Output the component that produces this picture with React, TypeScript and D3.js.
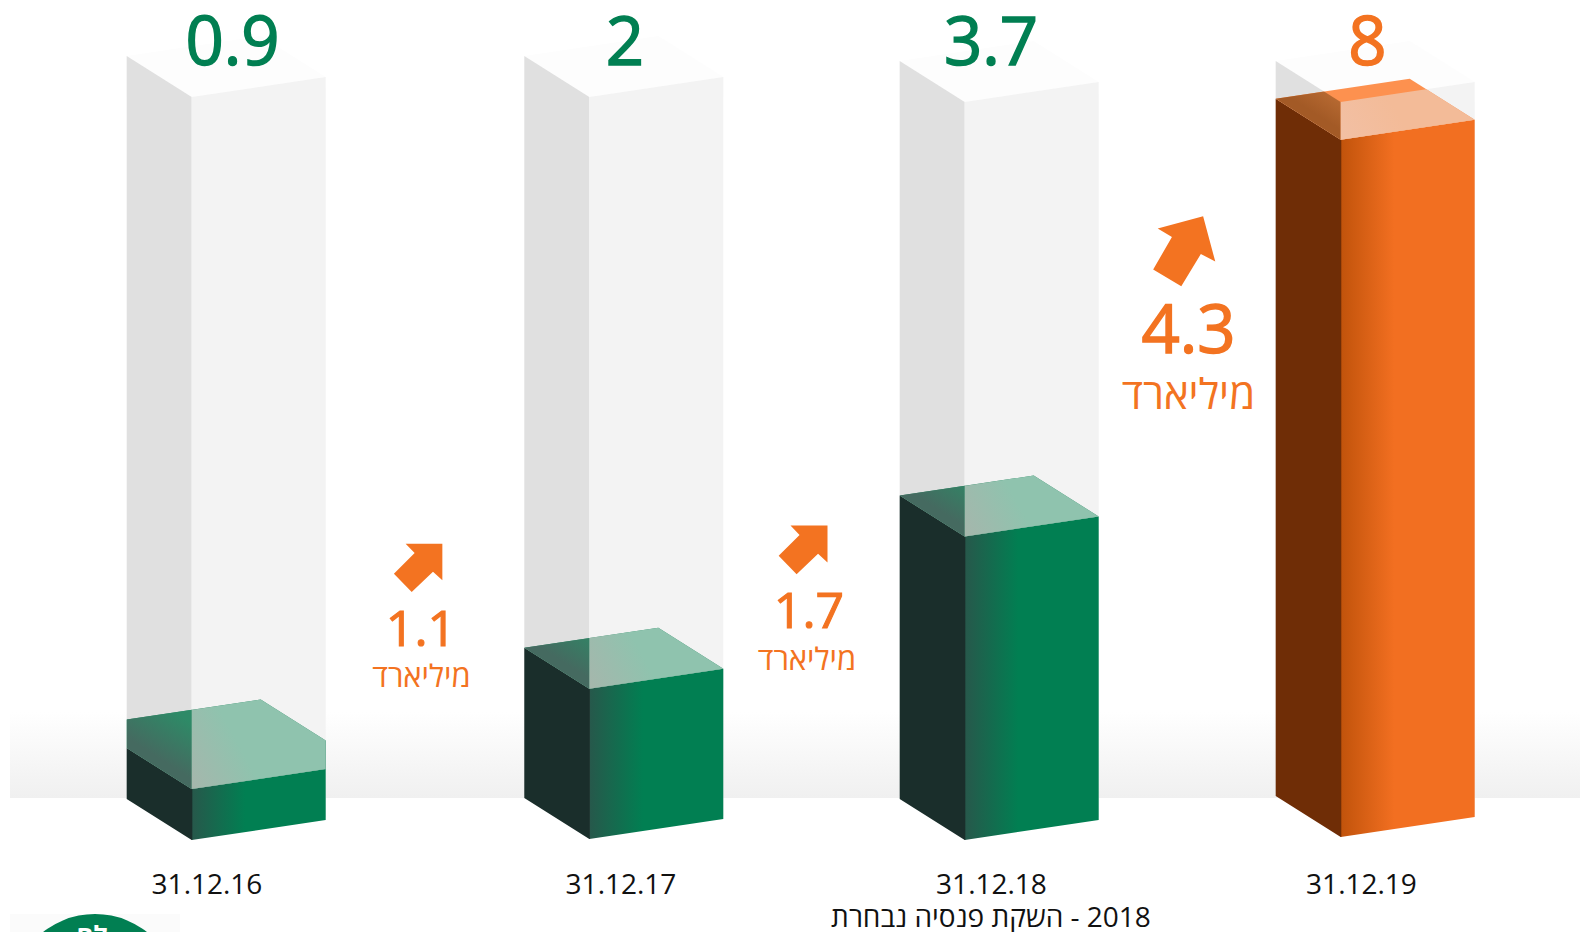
import React from "react";
import * as d3 from "d3";

const categories = ["31.12.16", "31.12.17", "31.12.18", "31.12.19"];
const values = [0.9, 2, 3.7, 8];
const valueLabels = ["0.9", "2", "3.7", "8"];
const deltas = ["1.1", "1.7", "4.3"];
const unitWord = "מיליארד";
const footnote = "2018 - השקת פנסיה נבחרת";
const logoText = "לח";

const W = 1580, H = 932;
const DX_L = 65, DY_L = 41, DX_R = 134, DY_R = 20;

const xLeft = d3.scaleOrdinal<string, number>().domain(categories).range([126.7, 524.3, 899.7, 1275.7]);
const frontBase = d3.scaleOrdinal<string, number>().domain(categories).range([840, 839, 840, 837]);
const ghostFrontTop = d3.scaleOrdinal<string, number>().domain(categories).range([97, 97, 102, 102]);
const lift = d3.scaleOrdinal<string, number>().domain(categories).range([28.5, 0, 0, 0]);
const heightScale = d3.scaleLinear().domain(values).range([51, 150.3, 303.5, 697.3]);
const valueX = d3.scaleOrdinal<string, number>().domain(valueLabels).range([232.5, 625, 991, 1367.5]);
const dateX = d3.scaleOrdinal<string, number>().domain(categories).range([207, 621, 991.5, 1361.5]);

const poly = (pts: number[][]) => (d3.line()(pts as [number, number][]) || "") + "Z";

const palette = {
  green: { left: "#1a2e2b", f0: "#27584b", f1: "#017f52", base: "#2f8a67", l0: "#456a60", l1: "#2e8a67", r0: "#a6b6ac", r1: "#8fc3ae" },
  orange: { left: "#6f2d06", f0: "#c1530b", f1: "#f26f21", base: "#fd914f", l0: "#a35a26", l1: "#c8773c", r0: "#f2c0a4", r1: "#f3bb98" },
};

const FONT = "'Open Sans','Noto Sans',sans-serif";
const ORANGE = "#f37321";
const GREEN = "#017f52";

function Bar({ cat, i }: { cat: string; i: number }) {
  const x0 = xLeft(cat), xm = x0 + DX_L, x1 = xm + DX_R;
  const base = frontBase(cat);
  const gy = ghostFrontTop(cat);
  const top = base - heightScale(values[i]);
  const c = i === 3 ? palette.orange : palette.green;
  const lf = lift(cat);
  const inner = 3;
  const ghostL = poly([[x0, gy - DY_L], [xm, gy], [xm, base - inner], [x0, base - DY_L - inner]]);
  const ghostR = poly([[xm, gy], [x1, gy - DY_R], [x1, base - DY_R - inner], [xm, base - inner]]);
  const ghostT = poly([[x0, gy - DY_L], [x0 + DX_R, gy - DY_L - DY_R], [x1, gy - DY_R], [xm, gy]]);
  const lid = poly([
    [x0, top - DY_L - lf],
    [x0 + DX_R, top - DY_L - DY_R - lf],
    [x1, top - DY_R - lf],
    [x1, top - DY_R],
    [xm, top],
    [x0, top - DY_L],
  ]);
  const mx = (x0 + xm) / 2, my = top - DY_L / 2;
  return (
    <g>
      <defs>
        <linearGradient id={`front${i}`} gradientUnits="userSpaceOnUse" x1={xm} x2={x1} y1={0} y2={0}>
          <stop offset="0" stopColor={c.f0} />
          <stop offset="0.4" stopColor={c.f1} />
          <stop offset="1" stopColor={c.f1} />
        </linearGradient>
        <linearGradient id={`lidL${i}`} gradientUnits="userSpaceOnUse" x1={mx} y1={my} x2={mx + 30} y2={my - 47}>
          <stop offset="0.15" stopColor={c.l0} />
          <stop offset="1" stopColor={c.l1} />
        </linearGradient>
        <linearGradient id={`lidR${i}`} gradientUnits="userSpaceOnUse" x1={xm} y1={top} x2={xm + 55} y2={top - 30}>
          <stop offset="0" stopColor={c.r0} />
          <stop offset="1" stopColor={c.r1} />
        </linearGradient>
        <clipPath id={`clipL${i}`}><path d={ghostL} /></clipPath>
        <clipPath id={`clipR${i}`}><path d={ghostR} /></clipPath>
      </defs>
      <path d={ghostT} fill="#fdfdfd" />
      <path d={ghostL} fill="#e0e0e0" />
      <path d={ghostR} fill="#f3f3f3" />
      <path d={poly([[xm, top], [x1, top - DY_R], [x1, base - DY_R], [xm, base]])} fill={`url(#front${i})`} />
      <path d={poly([[x0, top - DY_L], [xm, top], [xm + 0.6, top], [xm + 0.6, base], [xm, base], [x0, base - DY_L]])} fill={c.left} />
      <path d={lid} fill={c.base} />
      <path d={lid} fill={`url(#lidL${i})`} clipPath={`url(#clipL${i})`} />
      <path d={lid} fill={`url(#lidR${i})`} clipPath={`url(#clipR${i})`} />
    </g>
  );
}

const arrowShape = [[-0.5, -0.5], [0.5, -0.5], [0.5, 0.5], [0.245, 0.265], [-0.335, 0.82], [-0.82, 0.32], [-0.255, -0.245]];
const arrowPlace = [
  { cx: 424, cy: 562, size: 36.7, rot: 0 },
  { cx: 809, cy: 544, size: 37, rot: 0 },
  { cx: 1186.5, cy: 245, size: 47, rot: -15 },
];
const deltaPlace = [
  { x: 421, y: 646, fs: 50, wx: 421.5, wy: 687, wfs: 31 },
  { x: 809, y: 628, fs: 50, wx: 807, wy: 670, wfs: 31 },
  { x: 1188.5, y: 353, fs: 67, wx: 1188.5, wy: 409, wfs: 42 },
];

export default function App() {
  return (
    <svg width={W} height={H} viewBox={`0 0 ${W} ${H}`} style={{ position: "absolute", left: 0, top: 0, background: "#fff" }}>
      <defs>
        <linearGradient id="floor" x1="0" x2="0" y1="0" y2="1">
          <stop offset="0" stopColor="#ffffff" />
          <stop offset="1" stopColor="#f0f0f0" />
        </linearGradient>
      </defs>
      <rect x={10} y={712} width={W - 10} height={86} fill="url(#floor)" />
      {categories.map((c, i) => <Bar key={c} cat={c} i={i} />)}
      {valueLabels.map((v, i) => {
        const col = i === 3 ? ORANGE : GREEN;
        return (
          <text key={v} x={valueX(v)} y={65} textAnchor="middle" fontFamily={FONT} fontSize={67} fill={col} stroke={col} strokeWidth={1.5}>{v}</text>
        );
      })}
      {deltas.map((d, i) => {
        const a = arrowPlace[i], t = deltaPlace[i];
        return (
          <g key={d}>
            <path
              d={poly(arrowShape.map(([x, y]) => [x * a.size, y * a.size]))}
              transform={`translate(${a.cx},${a.cy}) rotate(${a.rot})`}
              fill={ORANGE}
            />
            <text x={t.x} y={t.y} textAnchor="middle" fontFamily={FONT} fontSize={t.fs} fill={ORANGE} stroke={ORANGE} strokeWidth={t.fs * 0.022}>{d}</text>
            <text x={t.wx} y={t.wy} textAnchor="middle" direction="rtl" fontFamily={FONT} fontSize={t.wfs} fill={ORANGE}>{unitWord}</text>
          </g>
        );
      })}
      {categories.map((c) => (
        <text key={c} x={dateX(c)} y={893.5} textAnchor="middle" fontFamily={FONT} fontSize={28} fill="#111">{c}</text>
      ))}
      <text x={991} y={926.5} textAnchor="middle" direction="rtl" fontFamily={FONT} fontSize={28} fill="#111">{footnote}</text>
      <rect x={10} y={914} width={170} height={18} fill="#fbfbfb" />
      <circle cx={95} cy={998} r={84} fill={GREEN} />
      <text x={92} y={945} textAnchor="middle" direction="rtl" fontFamily={FONT} fontSize={26} fontWeight={700} fill="#fff">{logoText}</text>
    </svg>
  );
}
